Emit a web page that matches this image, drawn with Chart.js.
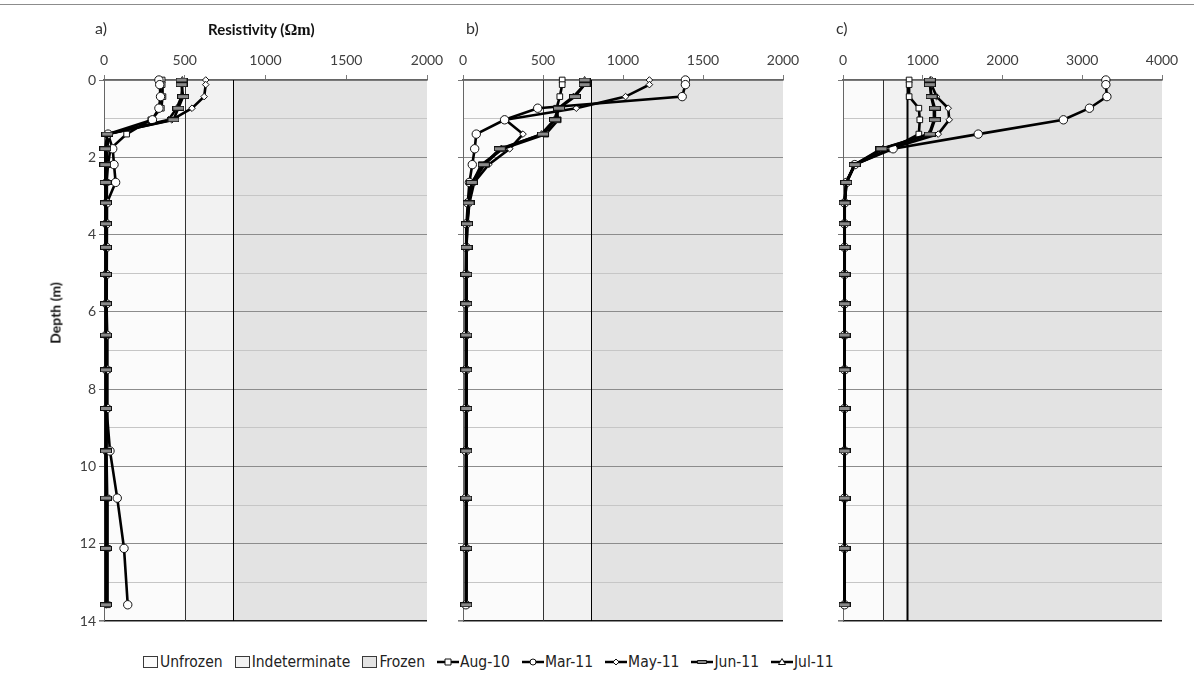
<!DOCTYPE html>
<html><head><meta charset="utf-8">
<script src="https://cdn.jsdelivr.net/npm/chart.js@4.4.1/dist/chart.umd.min.js"></script>
<style>
body{margin:0;background:#fff;width:1194px;height:698px;position:relative;overflow:hidden;font-family:Lato,'Open Sans',sans-serif;}
canvas.cv{position:absolute;top:0;}
#topline{position:absolute;left:0;top:4px;width:1194px;height:1px;background:#8c8c8c;}
.plab{position:absolute;top:18px;font-size:16px;color:#333;}
#xtitle{position:absolute;left:208px;top:20px;font-size:15px;font-weight:bold;color:#111;white-space:nowrap;}
#xtitle span{font-family:'Liberation Serif','DejaVu Serif',serif;font-size:16px;}
#ytitle{position:absolute;left:55px;top:313px;transform:translate(-50%,-50%) rotate(-90deg);font-size:14px;font-weight:bold;color:#111;white-space:nowrap;}
#legend{position:absolute;left:143px;top:652px;height:20px;display:flex;align-items:center;gap:12px;font-family:'Liberation Sans Narrow','DejaVu Sans Condensed',sans-serif;font-size:15.5px;color:#222;}
.li{display:flex;align-items:center;height:20px;white-space:nowrap;}
.box{width:13px;height:10px;border:1px solid #3a3a3a;margin-right:2px;}
</style></head><body>
<div id="topline"></div>
<canvas id="c0" class="cv" width="460" height="640" style="left:0px"></canvas>
<canvas id="c1" class="cv" width="380" height="640" style="left:430px"></canvas>
<canvas id="c2" class="cv" width="384" height="640" style="left:810px"></canvas>
<div class="plab" style="left:95px">a)</div>
<div class="plab" style="left:466px">b)</div>
<div class="plab" style="left:836px">c)</div>
<div id="xtitle">Resistivity (<span>Ωm</span>)</div>
<div id="ytitle">Depth (m)</div>
<div id="legend"></div>
<script>
// ---------- data ----------
const depths = [0, 0.12, 0.43, 0.73, 1.03, 1.4, 1.78, 2.19, 2.65, 3.18, 3.72, 4.33, 5.03, 5.79, 6.6, 7.5, 8.5, 9.6, 10.82, 12.12, 13.58];
const seriesNames = ['Aug-10', 'Mar-11', 'May-11', 'Jun-11', 'Jul-11'];
const zoneNames = ['Unfrozen', 'Indeterminate', 'Frozen'];
const thresholds = [500, 800];
const panelTicksA = [0, 500, 1000, 1500, 2000];
const panelTicksB = [0, 500, 1000, 1500, 2000];
const panelTicksC = [0, 1000, 2000, 3000, 4000];
const depthTicks = [0, 2, 4, 6, 8, 10, 12, 14];

// panel a
const aug10_a = [360, 360, 365, 355, 290, 140, 40, 25, 15, 15, 15, 15, 15, 18, 20, 22, 20, 15, 20, 22, 22];
const mar11_a = [340, 345, 350, 340, 300, 25, 54, 62, 72, 18, 15, 15, 15, 15, 15, 15, 18, 37, 82, 124, 147];
const may11_a = [630, 630, 620, 545, 420, 30, 20, 18, 15, 15, 15, 15, 15, 15, 15, 15, 15, 12, 15, 15, 15];
const jun11_a = [480, 480, 490, 460, 430, 20, 8, 8, 10, 12, 12, 12, 12, 12, 12, 12, 12, 12, 12, 12, 12];
const jul11_a = [485, 485, 480, 450, 400, 25, 12, 10, 12, 12, 12, 12, 12, 12, 12, 12, 12, 12, 12, 12, 12];
// panel b
const aug10_b = [620, 620, 605, 585, 595, 517, 250, 115, 60, 35, 25, 22, 20, 20, 20, 20, 20, 20, 20, 20, 20];
const mar11_b = [1390, 1390, 1370, 467, 260, 83, 73, 58, 40, 30, 22, 20, 18, 18, 18, 18, 18, 18, 18, 18, 18];
const may11_b = [1165, 1165, 1016, 708, 265, 375, 292, 160, 70, 40, 28, 22, 20, 20, 20, 20, 20, 20, 20, 20, 20];
const jun11_b = [760, 760, 700, 600, 575, 500, 230, 130, 55, 35, 25, 22, 20, 20, 20, 20, 20, 20, 20, 20, 20];
const jul11_b = [760, 760, 690, 595, 570, 490, 240, 135, 60, 38, 26, 22, 20, 20, 20, 20, 20, 20, 20, 20, 20];
// panel c
const aug10_c = [829, 829, 829, 951, 963, 951, 600, 147, 40, 20, 20, 20, 20, 20, 20, 20, 20, 20, 20, 20, 20];
const mar11_c = [3296, 3296, 3309, 3090, 2764, 1696, 628, 147, 45, 20, 20, 20, 20, 20, 20, 20, 20, 20, 20, 20, 20];
const may11_c = [1110, 1110, 1173, 1319, 1332, 1194, 586, 150, 45, 22, 20, 20, 20, 20, 20, 20, 20, 20, 20, 20, 20];
const jun11_c = [1089, 1089, 1110, 1152, 1152, 1089, 482, 147, 40, 20, 20, 20, 20, 20, 20, 20, 20, 20, 20, 20, 20];
const jul11_c = [1095, 1095, 1105, 1140, 1140, 1080, 500, 145, 40, 20, 20, 20, 20, 20, 20, 20, 20, 20, 20, 20, 20];

// ---------- drawing ----------
function dashMarker(){
  const c = document.createElement('canvas'); c.width = 12; c.height = 5;
  const g = c.getContext('2d');
  g.fillStyle = '#8a8a8a'; g.fillRect(0.5,0.5,11,4);
  g.strokeStyle = '#111'; g.lineWidth = 1; g.strokeRect(0.5,0.5,11,4);
  return c;
}
const junImg = dashMarker();
const styles = [
  {pointStyle:'rect', pointRadius:4},
  {pointStyle:'circle', pointRadius:4.2},
  {pointStyle:'rectRot', pointRadius:3.3},
  {pointStyle:junImg, pointRadius:5},
  {pointStyle:'triangle', pointRadius:3.5}
];
const drawOrder = [2, 1, 3, 0, 4];
const zoneColors = ['#fbfbfb', '#f2f2f2', '#e3e3e3'];

const bands = {
  id: 'bands',
  beforeDraw(chart, args, o){
    const {ctx, chartArea:a, scales:{x}} = chart;
    const p0 = x.getPixelForValue(0), p1 = x.getPixelForValue(thresholds[0]), p2 = x.getPixelForValue(thresholds[1]);
    ctx.save();
    ctx.fillStyle = zoneColors[0]; ctx.fillRect(p0, a.top, p1 - p0, a.bottom - a.top);
    ctx.fillStyle = zoneColors[1]; ctx.fillRect(p1, a.top, p2 - p1, a.bottom - a.top);
    ctx.fillStyle = zoneColors[2]; ctx.fillRect(p2, a.top, a.right - p2, a.bottom - a.top);
    ctx.restore();
  },
  beforeDatasetsDraw(chart, args, o){
    const {ctx, chartArea:a, scales:{x}} = chart;
    ctx.save();
    ctx.strokeStyle = '#333'; ctx.lineWidth = 1;
    let p = Math.round(x.getPixelForValue(thresholds[0])) + 0.5;
    ctx.beginPath(); ctx.moveTo(p, a.top); ctx.lineTo(p, a.bottom); ctx.stroke();
    ctx.strokeStyle = '#000'; ctx.lineWidth = o.w2 || 1;
    p = Math.round(x.getPixelForValue(thresholds[1])) + 0.5;
    ctx.beginPath(); ctx.moveTo(p, a.top); ctx.lineTo(p, a.bottom); ctx.stroke();
    ctx.restore();
  }
};

function makePanel(id, series, ticks, pad, yWidth, showY, w2){
  const max = ticks[ticks.length-1];
  const datasets = series.map((vals, i) => ({
    label: seriesNames[i],
    data: depths.map((d, k) => ({x: vals[k], y: d})),
    showLine: true,
    borderColor: '#000',
    borderWidth: 2.6,
    backgroundColor: '#fff',
    pointBackgroundColor: '#fff',
    pointBorderColor: '#111',
    pointBorderWidth: 1,
    pointStyle: styles[i].pointStyle,
    pointRadius: styles[i].pointRadius,
    pointHoverRadius: styles[i].pointRadius,
    order: drawOrder[i],
    clip: false
  }));
  return new Chart(document.getElementById(id), {
    type: 'scatter',
    data: {datasets},
    plugins: [bands],
    options: {
      responsive: false, animation: false, devicePixelRatio: 1,
      layout: {padding: pad},
      plugins: {legend: {display: false}, tooltip: {enabled: false}, bands: {w2}},
      scales: {
        x: {
          type: 'linear', position: 'top', min: 0, max: max,
          afterFit(s){ s.height = 80; },
          afterBuildTicks(s){ s.ticks = ticks.map(v => ({value: v})); },
          ticks: {color: '#404040', font: {family: 'Lato', size: 14}, padding: 6, autoSkip: false,
                  callback: v => String(v)},
          grid: {drawOnChartArea: false, drawTicks: true, tickLength: 5, color: '#7a7a7a'},
          border: {color: '#666', width: 1.5}
        },
        y: {
          type: 'linear', reverse: true, min: 0, max: 14,
          afterFit(s){ s.width = yWidth; },
          afterBuildTicks(s){ s.ticks = Array.from({length: 15}, (_, i) => ({value: i})); },
          ticks: {
            autoSkip: false, color: '#404040', font: {family: 'Lato', size: 14}, padding: 3,
            callback: v => (showY && depthTicks.includes(v)) ? String(v) : ''
          },
          grid: {
            color: c => c.tick.value === 14 ? '#1a1a1a' : (c.tick.value % 2 === 0 ? '#8c8c8c' : '#c6c6c6'),
            lineWidth: c => c.tick.value === 14 ? 1.6 : 1,
            tickColor: c => c.tick.value % 2 === 0 ? '#777' : 'rgba(0,0,0,0)',
            tickLength: 5
          },
          border: {color: '#666', width: 1}
        }
      }
    }
  });
}

makePanel('c0', [aug10_a, mar11_a, may11_a, jun11_a, jul11_a], panelTicksA, {left:0, right:33, top:0, bottom:19}, 104, true, 1);
makePanel('c1', [aug10_b, mar11_b, may11_b, jun11_b, jul11_b], panelTicksB, {left:0, right:27, top:0, bottom:19}, 33, false, 1);
makePanel('c2', [aug10_c, mar11_c, may11_c, jun11_c, jul11_c], panelTicksC, {left:0, right:32, top:0, bottom:19}, 33, false, 2);

// ---------- legend ----------
const legend = document.getElementById('legend');
zoneNames.forEach((n, i) => {
  const d = document.createElement('div'); d.className = 'li';
  const b = document.createElement('div'); b.className = 'box'; b.style.background = zoneColors[i];
  d.appendChild(b); d.appendChild(document.createTextNode(n)); legend.appendChild(d);
});
seriesNames.forEach((n, i) => {
  const d = document.createElement('div'); d.className = 'li';
  const c = document.createElement('canvas'); c.width = 22; c.height = 12; c.style.marginRight = '1px';
  const g = c.getContext('2d');
  g.strokeStyle = '#000'; g.lineWidth = 2.5; g.beginPath(); g.moveTo(0, 6); g.lineTo(22, 6); g.stroke();
  g.fillStyle = '#fff'; g.strokeStyle = '#111'; g.lineWidth = 1;
  const st = styles[i].pointStyle;
  g.beginPath();
  if (st === 'rect') { g.rect(8, 3, 6, 6); }
  else if (st === 'circle') { g.arc(11, 6, 3, 0, Math.PI*2); }
  else if (st === 'rectRot') { g.moveTo(11, 3); g.lineTo(14, 6); g.lineTo(11, 9); g.lineTo(8, 6); g.closePath(); }
  else if (st === 'triangle') { g.moveTo(11, 2.5); g.lineTo(14.5, 8.5); g.lineTo(7.5, 8.5); g.closePath(); }
  else { g.fillStyle = '#8a8a8a'; g.rect(6.5, 4.5, 9, 3); }
  g.fill(); g.stroke();
  d.appendChild(c); d.appendChild(document.createTextNode(n)); legend.appendChild(d);
});
</script>
</body></html>
